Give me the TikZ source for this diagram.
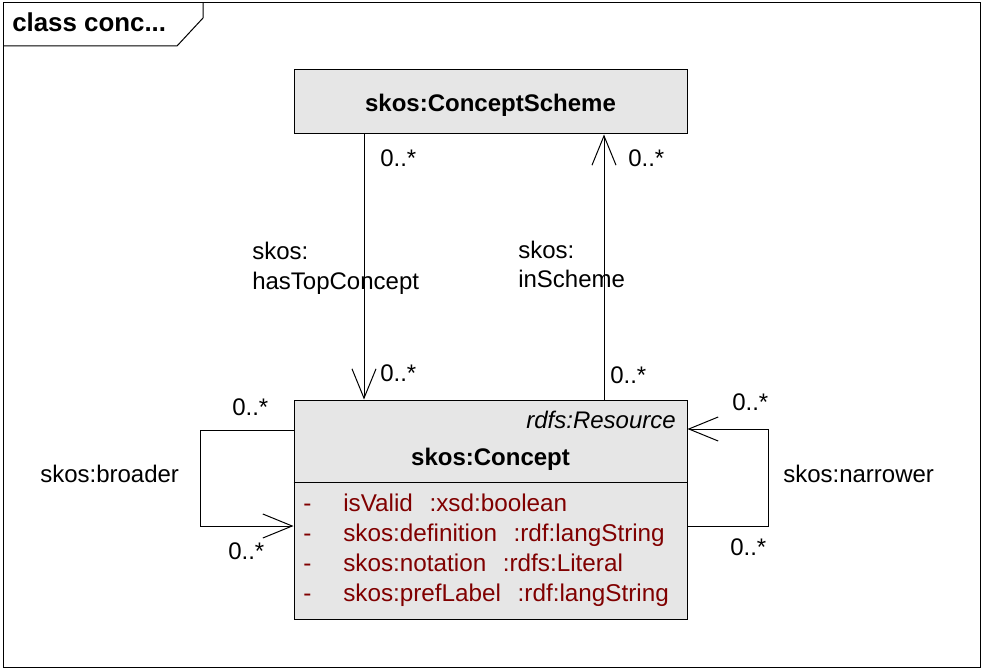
\documentclass[tikz,border=0pt]{standalone}
\usepackage{fontspec}
\setmainfont{Liberation Sans}
\usetikzlibrary{arrows.meta}
\definecolor{boxgray}{RGB}{230,230,230}
\definecolor{attrred}{RGB}{128,0,0}
\newcommand{\gapsp}{\hspace{12.5pt}}
\tikzset{
  px/.style={x=0.75pt,y=-0.75pt},
  umlbox/.style={draw=black,line width=0.75pt,fill=boxgray,minimum width=294.75pt,inner sep=0pt},
  txt/.style={inner sep=0pt,font=\fontsize{18}{21}\selectfont},
  btxt/.style={txt,font=\fontsize{18}{21}\selectfont\bfseries},
  attr/.style={txt,text=attrred,anchor=base west,font=\fontsize{18.2}{21}\selectfont},
  lbl/.style={txt,anchor=base west},
  conn/.style={draw=black,line width=0.75pt},
  openarrow/.style={conn,-{Straight Barb[length=22pt,width=18pt,line width=0.75pt]}}
}
\begin{document}
\begin{tikzpicture}[px]
\useasboundingbox (0,0) rectangle (982,670);
\fill[white] (0,0) rectangle (982,670);
% frame
\draw[line width=0.75pt] (3,3) rectangle (980,667);
\draw[line width=0.75pt] (3,46) -- (177,46) -- (203,18) -- (203,3);
\node[btxt,anchor=base west,font=\fontsize{19.4}{21}\selectfont\bfseries] (title) at (12,31.5) {class conc...};
% boxes
\node[umlbox,minimum height=48pt] (scheme) at (490.5,102) {};
\node[btxt,anchor=base] (schemename) at (490.5,111.5) {skos:ConceptScheme};
\node[umlbox,minimum height=164.25pt] (concept) at (490.5,509.5) {};
\draw[line width=0.75pt] (concept.west |- 0,482) -- (concept.east |- 0,482);
\node[txt,anchor=base east,font=\fontsize{18}{21}\selectfont\itshape] (stereo) at (676,428.5) {rdfs:Resource};
\node[btxt,anchor=base] (conceptname) at (490.5,465.5) {skos:Concept};
\foreach \yy/\tt [count=\i] in {511.5/{isValid\gapsp:xsd:boolean},541.5/{skos:definition\gapsp:rdf:langString},571.5/{skos:notation\gapsp:rdfs:Literal},601.5/{skos:prefLabel\gapsp:rdf:langString}}{
  \node[attr] (dash\i) at (303,\yy) {-};
  \node[attr] (attr\i) at (343,\yy) {\tt};
}
% helper coordinates
\coordinate (htcx) at (364,0);
\coordinate (isx) at (604,0);
\coordinate (broadtop) at (200,430);
\coordinate (broadbot) at (200,526);
\coordinate (narrtop) at (768,429);
\coordinate (narrbot) at (768,526);
% connectors
\draw[openarrow] (scheme.south -| htcx) -- (concept.north -| htcx);
\draw[openarrow] (concept.north -| isx) -- (scheme.south -| isx);
\draw[openarrow] (concept.west |- broadtop) -- (broadtop) -- (broadbot) -- (concept.west |- broadbot);
\draw[openarrow] (concept.east |- narrbot) -- (narrbot) -- (narrtop) -- (concept.east |- narrtop);
% labels
\node[lbl] (m1) at (380,166.5) {0..*};
\node[lbl] (m2) at (628,166.5) {0..*};
\node[lbl] (m3) at (380,381.5) {0..*};
\node[lbl] (m4) at (610,383.5) {0..*};
\node[lbl] (m5) at (232,415.5) {0..*};
\node[lbl] (m6) at (228,559.5) {0..*};
\node[lbl] (m7) at (732,410.5) {0..*};
\node[lbl] (m8) at (730,555.5) {0..*};
\node[lbl] (l1a) at (252,259.5) {skos:};
\node[lbl] (l1b) at (252,289.5) {hasTopConcept};
\node[lbl] (l2a) at (518,258.5) {skos:};
\node[lbl] (l2b) at (518,287.5) {inScheme};
\node[lbl] (l3) at (40,482.5) {skos:broader};
\node[lbl] (l4) at (783,482.5) {skos:narrower};
\end{tikzpicture}
\end{document}
